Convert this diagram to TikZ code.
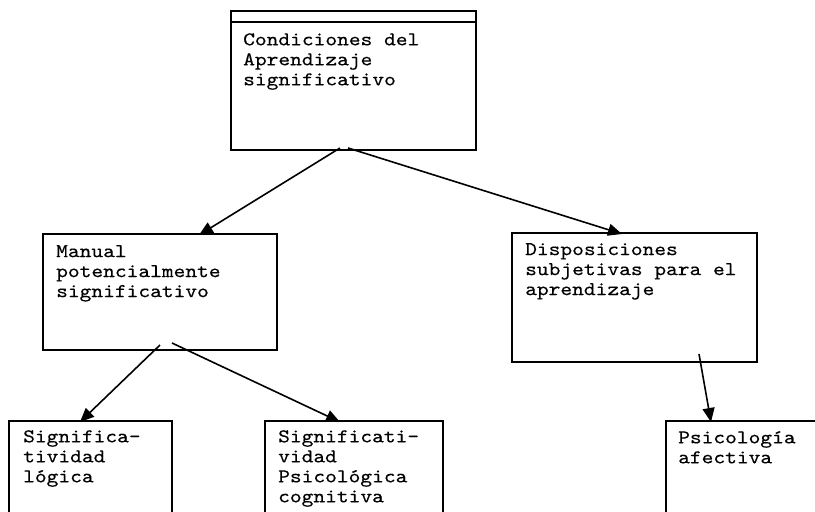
\documentclass[tikz,border=0pt]{standalone}
\usepackage{fontspec}
\newfontfamily\courfont{lmmono10-regular.otf}[FakeStretch=1.147,FakeBold=0.3]
\usetikzlibrary{arrows.meta,calc}
\begin{document}
\begin{tikzpicture}[x=1pt,y=-1pt]
\tikzset{
 box/.style={draw, line width=1.5pt, inner sep=0pt, outer sep=0pt, anchor=north west},
 txt/.style={font=\courfont\fontsize{19.5}{20}\selectfont, align=left, inner sep=0pt, anchor=north west},
 arr/.style={line width=1.6pt, -{Triangle[length=14pt,width=12pt]}}
}
\useasboundingbox (0,0) rectangle (815,512);
\clip (0,0) rectangle (815,512);
\fill[white] (0,0) rectangle (815,512);
\node[box, minimum width=245pt, minimum height=139pt] (top) at (231,11) {};
\draw[line width=1.5pt] ($(top.north west)+(0,11)$) -- ($(top.north east)+(0,11)$);
\node[box, minimum width=234pt, minimum height=116pt] (man) at (43,234) {};
\node[box, minimum width=245pt, minimum height=129pt] (disp) at (512,233) {};
\node[box, minimum width=163pt, minimum height=120pt] (b1) at (9,421) {};
\node[box, minimum width=178pt, minimum height=120pt] (b2) at (265,421) {};
\node[box, minimum width=200pt, minimum height=120pt] (b3) at (666,421) {};
\node[txt] (t0) at (243,33) {Condiciones del\\Aprendizaje\\significativo};
\node[txt] (t1) at (56,245) {Manual\\potencialmente\\significativo};
\node[txt] (t2) at (525,243) {Disposiciones\\subjetivas para el\\aprendizaje};
\node[txt] (t3) at (23,430) {Significa-\\tividad\\lógica};
\node[txt] (t4) at (278,430) {Significati-\\vidad\\Psicológica\\cognitiva};
\node[txt] (t5) at (678,431) {Psicología\\afectiva};
\draw[arr] ($(top.south west)+(109,-2)$) -- ($(man.north west)+(156,1)$);
\draw[arr] ($(top.south west)+(117,-2)$) -- ($(disp.north west)+(110,1)$);
\draw[arr] ($(man.south west)+(117,-5)$) -- ($(b1.north west)+(71,1)$);
\draw[arr] ($(man.south west)+(129,-7)$) -- ($(b2.north west)+(75,1)$);
\draw[arr] ($(disp.south west)+(187,-8)$) -- ($(b3.north west)+(45,1)$);
\end{tikzpicture}
\end{document}
